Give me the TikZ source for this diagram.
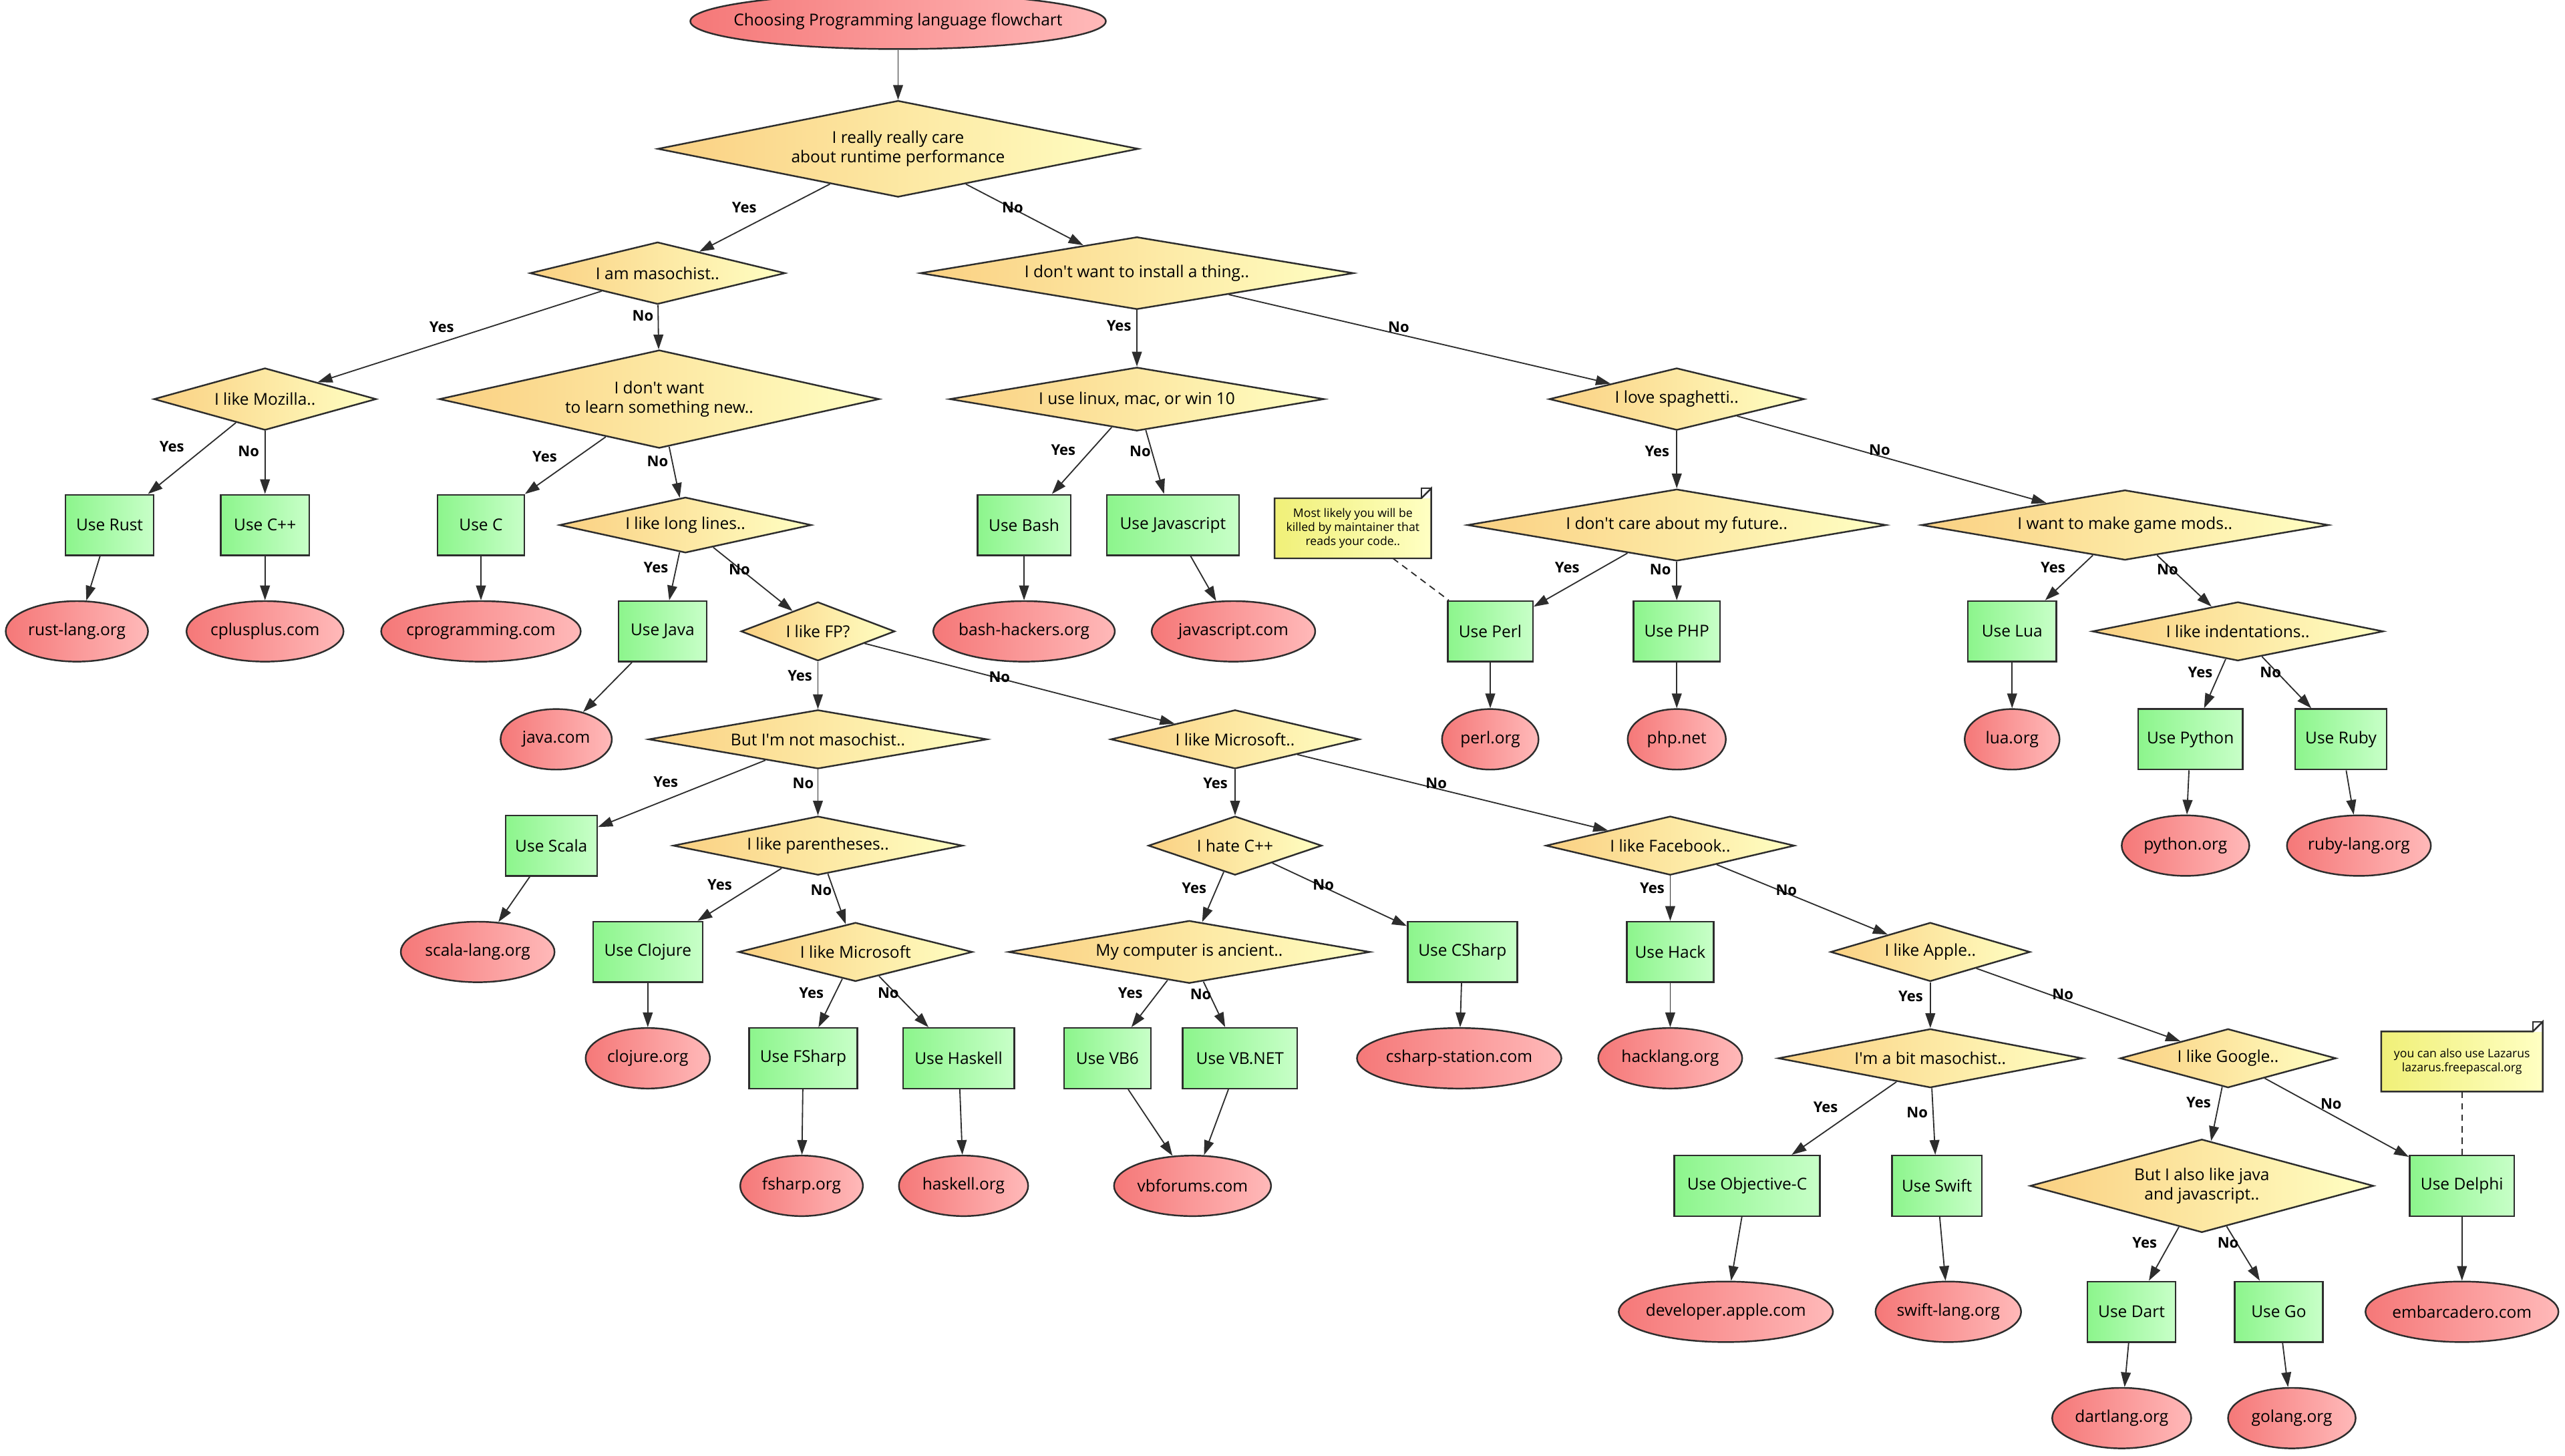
\documentclass[tikz,border=0pt]{standalone}
\usepackage{fontspec}
\setmainfont{Open Sans}
\usetikzlibrary{shapes.geometric,arrows.meta}

\definecolor{decL}{RGB}{250,208,130}
\definecolor{decR}{RGB}{255,255,195}
\definecolor{actL}{RGB}{140,245,140}
\definecolor{actR}{RGB}{200,255,200}
\definecolor{siteL}{RGB}{245,120,120}
\definecolor{siteR}{RGB}{255,185,185}
\definecolor{noteL}{RGB}{240,240,120}
\definecolor{noteR}{RGB}{255,255,195}
\definecolor{edge}{RGB}{45,45,45}

\tikzset{every picture/.style={line width=0.75pt}}
\tikzset{
  dec/.style={diamond, aspect=4, inner sep=0pt, draw=edge, line width=1pt, left color=decL, right color=decR, align=center},
  act/.style={rectangle, inner sep=0pt, draw=edge, line width=1pt, left color=actL, right color=actR, minimum height=37pt},
  site/.style={ellipse, inner sep=0pt, draw=edge, line width=1pt, left color=siteL, right color=siteR, minimum height=37pt,
    execute at begin node={\hbox to 0pt\bgroup\hss}, execute at end node={\hss\egroup}},
  memo/.style={rectangle, inner sep=0pt, left color=noteL, right color=noteR, align=center, font=\fontsize{7.2}{8.5}\selectfont},
  flow/.style={draw=edge, -{Triangle[length=9pt,width=6pt]}},
  link/.style={draw=edge, dash pattern={on 4pt off 3pt}},
  lbl/.style={inner sep=0pt, font=\bfseries\fontsize{9}{10}\selectfont}
}
\newcommand{\q}{\textquotesingle}

\begin{document}
\begin{tikzpicture}[x=1pt,y=1pt,yscale=-1,font=\fontsize{10}{12}\selectfont]
\useasboundingbox (0,0) rectangle (1568,890);

%Shape: Ellipse [id:start]
\node[site, minimum width=254pt, minimum height=34pt] (start) at (549,13) {Choosing Programming language flowchart};

%Shape: Diamond
\node[dec, minimum width=294pt, minimum height=59pt] (perf) at (549,91) {I really really care\\about runtime performance};
\node[dec, minimum width=156pt, minimum height=38pt] (maso) at (402,167) {I am masochist..};
\node[dec, minimum width=265pt, minimum height=38pt] (install) at (695,167) {I don\q t want to install a thing..};
\node[dec, minimum width=136pt, minimum height=38pt] (mozilla) at (162,244) {I like Mozilla..};
\node[dec, minimum width=269pt, minimum height=60pt] (learn) at (403,244) {I don\q t want\\to learn something new..};
\node[dec, minimum width=229pt, minimum height=38pt] (os) at (695,244) {I use linux, mac, or win 10};
\node[dec, minimum width=156pt, minimum height=38pt] (spag) at (1025,244) {I love spaghetti..};
\node[dec, minimum width=154pt, minimum height=34pt] (lines) at (419,321) {I like long lines..};
\node[dec, minimum width=256pt, minimum height=36pt] (future) at (1025,321) {I don\q t care about my future..};
\node[dec, minimum width=249pt, minimum height=36pt] (mods) at (1299,321) {I want to make game mods..};
\node[dec, minimum width=94pt, minimum height=36pt] (fp) at (500,386) {I like FP?};
\node[dec, minimum width=178pt, minimum height=36pt] (indent) at (1368,386) {I like indentations..};
\node[dec, minimum width=207pt, minimum height=36pt] (notmaso) at (500,452) {But I\q m not masochist..};
\node[dec, minimum width=152pt, minimum height=36pt] (ms) at (755,452) {I like Microsoft..};
\node[dec, minimum width=177pt, minimum height=36pt] (paren) at (500,517) {I like parentheses..};
\node[dec, minimum width=106pt, minimum height=36pt] (hatecpp) at (755,517) {I hate C++};
\node[dec, minimum width=152pt, minimum height=36pt] (fb) at (1021,517) {I like Facebook..};
\node[dec, minimum width=143pt, minimum height=36pt] (msfp) at (523,582) {I like Microsoft};
\node[dec, minimum width=221pt, minimum height=36pt] (ancient) at (727,582) {My computer is ancient..};
\node[dec, minimum width=122pt, minimum height=36pt] (apple) at (1180,582) {I like Apple..};
\node[dec, minimum width=186pt, minimum height=36pt] (bitmaso) at (1180,647) {I\q m a bit masochist..};
\node[dec, minimum width=132pt, minimum height=36pt] (google) at (1362,647) {I like Google..};
\node[dec, minimum width=210pt, minimum height=57pt] (javajs) at (1346,725) {But I also like java\\and javascript..};

%Shape: Rectangle
\node[act, minimum width=54pt] (rust) at (67,321) {Use Rust};
\node[act, minimum width=54pt] (cpp) at (162,321) {Use C++};
\node[act, minimum width=53pt] (c) at (294,321) {Use C};
\node[act, minimum width=57pt] (bash) at (626,321) {Use Bash};
\node[act, minimum width=81pt] (js) at (717,321) {Use Javascript};
\node[act, minimum width=54pt] (java) at (405,386) {Use Java};
\node[act, minimum width=52pt] (perl) at (911,386) {Use Perl};
\node[act, minimum width=53pt] (php) at (1025,386) {Use PHP};
\node[act, minimum width=54pt] (lua) at (1230,386) {Use Lua};
\node[act, minimum width=64pt] (python) at (1339,452) {Use Python};
\node[act, minimum width=56pt] (ruby) at (1431,452) {Use Ruby};
\node[act, minimum width=56pt] (scala) at (337,517) {Use Scala};
\node[act, minimum width=67pt] (clojure) at (396,582) {Use Clojure};
\node[act, minimum width=67pt] (csharp) at (894,582) {Use CSharp};
\node[act, minimum width=53pt] (hack) at (1021,582) {Use Hack};
\node[act, minimum width=66pt] (fsharp) at (491,647) {Use FSharp};
\node[act, minimum width=68pt] (haskell) at (586,647) {Use Haskell};
\node[act, minimum width=53pt] (vbsix) at (677,647) {Use VB6};
\node[act, minimum width=70pt] (vbnet) at (758,647) {Use VB.NET};
\node[act, minimum width=89pt] (objc) at (1068,725) {Use Objective-C};
\node[act, minimum width=55pt] (swift) at (1184,725) {Use Swift};
\node[act, minimum width=64pt] (delphi) at (1505,725) {Use Delphi};
\node[act, minimum width=54pt] (dart) at (1303,802) {Use Dart};
\node[act, minimum width=54pt] (go) at (1393,802) {Use Go};

%Shape: Ellipse
\node[site, minimum width=87pt] (rustorg) at (47,386) {rust-lang.org};
\node[site, minimum width=96pt] (cppcom) at (162,386) {cplusplus.com};
\node[site, minimum width=122pt] (ccom) at (294,386) {cprogramming.com};
\node[site, minimum width=111pt] (bashorg) at (626,386) {bash-hackers.org};
\node[site, minimum width=100pt] (jscom) at (754,386) {javascript.com};
\node[site, minimum width=68pt] (javacom) at (340,452) {java.com};
\node[site, minimum width=59pt] (perlorg) at (911,452) {perl.org};
\node[site, minimum width=60pt] (phpnet) at (1025,452) {php.net};
\node[site, minimum width=58pt] (luaorg) at (1230,452) {lua.org};
\node[site, minimum width=78pt] (pyorg) at (1336,517) {python.org};
\node[site, minimum width=88pt] (rubyorg) at (1442,517) {ruby-lang.org};
\node[site, minimum width=94pt] (scalaorg) at (292,582) {scala-lang.org};
\node[site, minimum width=76pt] (cljorg) at (396,647) {clojure.org};
\node[site, minimum width=125pt] (csharpcom) at (892,647) {csharp-station.com};
\node[site, minimum width=88pt] (hackorg) at (1021,647) {hacklang.org};
\node[site, minimum width=75pt] (fsorg) at (490,725) {fsharp.org};
\node[site, minimum width=79pt] (hsorg) at (589,725) {haskell.org};
\node[site, minimum width=96pt] (vbcom) at (729,725) {vbforums.com};
\node[site, minimum width=131pt] (applecom) at (1055,802) {developer.apple.com};
\node[site, minimum width=89pt] (swiftorg) at (1191,802) {swift-lang.org};
\node[site, minimum width=118pt] (embcom) at (1505,802) {embarcadero.com};
\node[site, minimum width=85pt] (dartorg) at (1297,867) {dartlang.org};
\node[site, minimum width=78pt] (goorg) at (1401,867) {golang.org};

%Shape: Note
\node[memo, minimum width=95pt, minimum height=36pt] (perlnote) at (827,323) {Most likely you will be\\killed by maintainer that\\reads your code..};
\node[memo, minimum width=98pt, minimum height=36pt] (delphinote) at (1505,649) {you can also use Lazarus\\lazarus.freepascal.org};
\foreach \n in {perlnote,delphinote} {
  \fill[white] (\n.north east) -- ([xshift=-6pt]\n.north east) -- ([yshift=-6pt]\n.north east) -- cycle;
  \draw[edge, line width=1pt] (\n.south west) -- (\n.north west) -- ([xshift=-6pt]\n.north east) -- ([yshift=-6pt]\n.north east) -- (\n.south east) -- cycle;
  \draw[edge] ([xshift=-6pt]\n.north east) -- ([shift={(-6pt,-6pt)}]\n.north east) -- ([yshift=-6pt]\n.north east);
}

%Straight Lines
\draw[flow] (start) -- (perf);
\draw[flow] (perf) -- (maso);
\draw[flow] (perf) -- (install);
\draw[flow] (maso) -- (mozilla);
\draw[flow] (maso) -- (learn);
\draw[flow] (install) -- (os);
\draw[flow] (install) -- (spag);
\draw[flow] (mozilla) -- (rust);
\draw[flow] (mozilla) -- (cpp);
\draw[flow] (learn) -- (c);
\draw[flow] (learn) -- (lines);
\draw[flow] (os) -- (bash);
\draw[flow] (os) -- (js);
\draw[flow] (spag) -- (future);
\draw[flow] (spag) -- (mods);
\draw[flow] (lines) -- (java);
\draw[flow] (lines) -- (fp);
\draw[flow] (future) -- (perl);
\draw[flow] (future) -- (php);
\draw[flow] (mods) -- (lua);
\draw[flow] (mods) -- (indent);
\draw[flow] (fp) -- (notmaso);
\draw[flow] (fp) -- (ms);
\draw[flow] (indent) -- (python);
\draw[flow] (indent) -- (ruby);
\draw[flow] (notmaso) -- (scala);
\draw[flow] (notmaso) -- (paren);
\draw[flow] (ms) -- (hatecpp);
\draw[flow] (ms) -- (fb);
\draw[flow] (paren) -- (clojure);
\draw[flow] (paren) -- (msfp);
\draw[flow] (hatecpp) -- (ancient);
\draw[flow] (hatecpp) -- (csharp);
\draw[flow] (fb) -- (hack);
\draw[flow] (fb) -- (apple);
\draw[flow] (msfp) -- (fsharp);
\draw[flow] (msfp) -- (haskell);
\draw[flow] (ancient) -- (vbsix);
\draw[flow] (ancient) -- (vbnet);
\draw[flow] (apple) -- (bitmaso);
\draw[flow] (apple) -- (google);
\draw[flow] (bitmaso) -- (objc);
\draw[flow] (bitmaso) -- (swift);
\draw[flow] (google) -- (javajs);
\draw[flow] (google) -- (delphi);
\draw[flow] (javajs) -- (dart);
\draw[flow] (javajs) -- (go);
%Straight Lines: to the sites
\draw[flow] (rust) -- (rustorg);
\draw[flow] (cpp) -- (cppcom);
\draw[flow] (c) -- (ccom);
\draw[flow] (bash) -- (bashorg);
\draw[flow] (js) -- (jscom);
\draw[flow] (java) -- (javacom);
\draw[flow] (perl) -- (perlorg);
\draw[flow] (php) -- (phpnet);
\draw[flow] (lua) -- (luaorg);
\draw[flow] (python) -- (pyorg);
\draw[flow] (ruby) -- (rubyorg);
\draw[flow] (scala) -- (scalaorg);
\draw[flow] (clojure) -- (cljorg);
\draw[flow] (csharp) -- (csharpcom);
\draw[flow] (hack) -- (hackorg);
\draw[flow] (fsharp) -- (fsorg);
\draw[flow] (haskell) -- (hsorg);
\draw[flow] (vbsix) -- (vbcom);
\draw[flow] (vbnet) -- (vbcom);
\draw[flow] (objc) -- (applecom);
\draw[flow] (swift) -- (swiftorg);
\draw[flow] (delphi) -- (embcom);
\draw[flow] (dart) -- (dartorg);
\draw[flow] (go) -- (goorg);
%Straight Lines: notes
\draw[link] (perlnote) -- (perl);
\draw[link] (delphinote) -- (delphi);

% Text Node
\node[lbl] (l1) at (455,127) {Yes};
\node[lbl] (l2) at (619,127) {No};
\node[lbl] (l3) at (270,200) {Yes};
\node[lbl] (l4) at (393,193) {No};
\node[lbl] (l5) at (684,199) {Yes};
\node[lbl] (l6) at (855,200) {No};
\node[lbl] (l7) at (105,273) {Yes};
\node[lbl] (l8) at (152,276) {No};
\node[lbl] (l9) at (333,279) {Yes};
\node[lbl] (l10) at (402,282) {No};
\node[lbl] (l11) at (650,275) {Yes};
\node[lbl] (l12) at (697,276) {No};
\node[lbl] (l13) at (1013,276) {Yes};
\node[lbl] (l14) at (1149,275) {No};
\node[lbl] (l15) at (401,347) {Yes};
\node[lbl] (l16) at (452,348) {No};
\node[lbl] (l17) at (958,347) {Yes};
\node[lbl] (l18) at (1015,348) {No};
\node[lbl] (l19) at (1255,347) {Yes};
\node[lbl] (l20) at (1325,348) {No};
\node[lbl] (l21) at (489,413) {Yes};
\node[lbl] (l22) at (611,414) {No};
\node[lbl] (l23) at (1345,411) {Yes};
\node[lbl] (l24) at (1388,411) {No};
\node[lbl] (l25) at (407,478) {Yes};
\node[lbl] (l26) at (491,479) {No};
\node[lbl] (l27) at (743,479) {Yes};
\node[lbl] (l28) at (878,479) {No};
\node[lbl] (l29) at (440,541) {Yes};
\node[lbl] (l30) at (502,544) {No};
\node[lbl] (l31) at (730,543) {Yes};
\node[lbl] (l32) at (809,541) {No};
\node[lbl] (l33) at (1010,543) {Yes};
\node[lbl] (l34) at (1092,544) {No};
\node[lbl] (l35) at (496,607) {Yes};
\node[lbl] (l36) at (543,607) {No};
\node[lbl] (l37) at (691,607) {Yes};
\node[lbl] (l38) at (734,608) {No};
\node[lbl] (l39) at (1168,609) {Yes};
\node[lbl] (l40) at (1261,608) {No};
\node[lbl] (l41) at (1116,677) {Yes};
\node[lbl] (l42) at (1172,680) {No};
\node[lbl] (l43) at (1344,674) {Yes};
\node[lbl] (l44) at (1425,675) {No};
\node[lbl] (l45) at (1311,760) {Yes};
\node[lbl] (l46) at (1362,760) {No};

\end{tikzpicture}
\end{document}
